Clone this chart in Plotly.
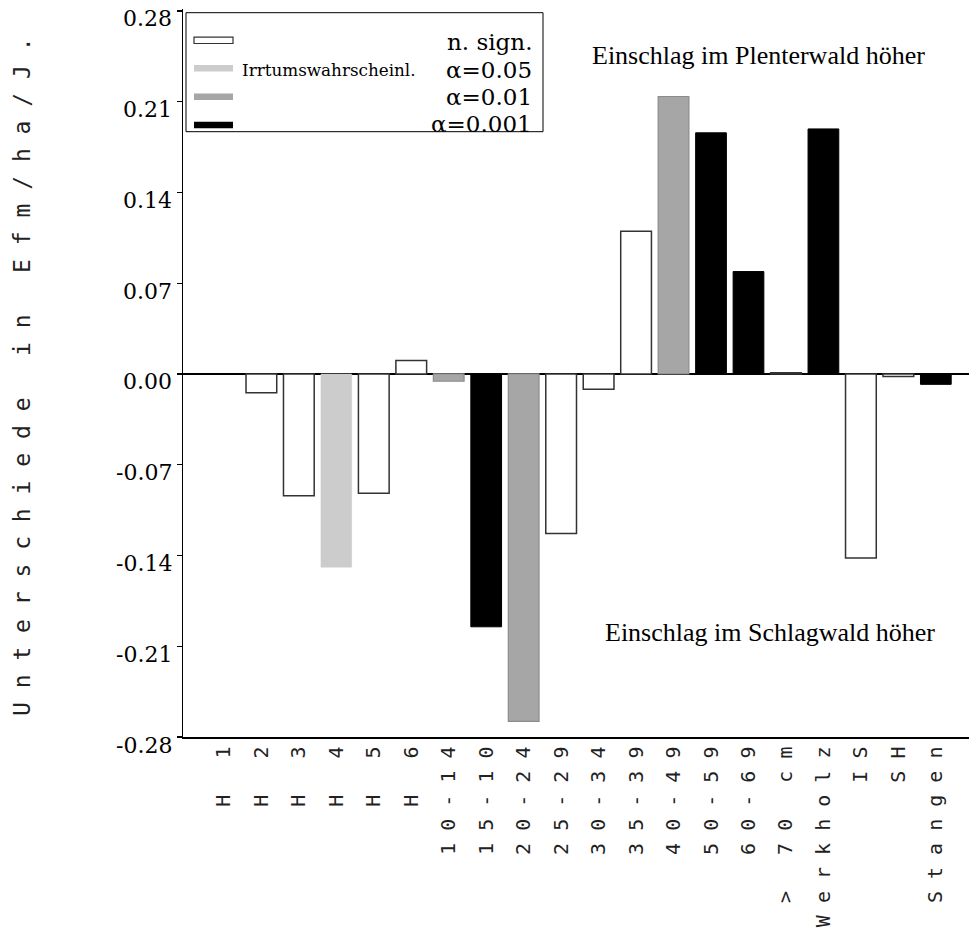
import plotly.graph_objects as go

# ---------------- data ----------------
categories = ["H 1", "H 2", "H 3", "H 4", "H 5", "H 6", "10-14", "15-10", "20-24",
              "25-29", "30-34", "35-39", "40-49", "50-59", "60-69", "> 70 cm",
              "Werkholz", "IS", "SH", "Stangen"]
differences = [None, -0.0144, -0.094, -0.149, -0.092, 0.0103, -0.0056, -0.195, -0.268,
               -0.123, -0.0118, 0.110, 0.214, 0.186, 0.079, 0.001,
               0.189, -0.142, -0.002, -0.008]
significance = ["n", "n", "n", "a05", "n", "n", "a01", "a001", "a01",
                "n", "n", "n", "a01", "a001", "a001", "n",
                "a001", "n", "n", "a001"]
sig_keys = ["n", "a05", "a01", "a001"]
sig_labels = ["n. sign.", "α=0.05", "α=0.01", "α=0.001"]
y_ticks = [-0.28, -0.21, -0.14, -0.07, 0.0, 0.07, 0.14, 0.21, 0.28]
y_title = "Unterschiede in Efm/ha/J."
note_top = "Einschlag im Plenterwald höher"
note_bottom = "Einschlag im Schlagwald höher"
legend_title = "Irrtumswahrscheinl."

# ---------------- styles ----------------
fill = {"n": "#ffffff", "a05": "#cccccc", "a01": "#a6a6a6", "a001": "#000000"}
edge = {"n": "#333333", "a05": "#cccccc", "a01": "#8c8c8c", "a001": "#000000"}
edge_w = {"n": 1.5, "a05": 0.5, "a01": 1.2, "a001": 1}
SERIF_W = "DejaVu Serif"

OFF = 0                      # body margin removed via post_script
W, H = 969 - OFF, 930 - OFF
PL, PT, PR, PB = 183, 9, 969, 737   # plot area in page pixels
L, T = PL - OFF, PT - OFF
R, B = W - (PR - OFF), H - (PB - OFF)
PW, PH = W - L - R, H - T - B


def px(x):
    return (x - PL) / PW


def py(y):
    return (PB - y) / PH


def spaced(s):
    return " ".join(s)


xs = list(range(len(categories)))
fig = go.Figure()
fig.add_trace(go.Bar(
    x=xs, y=differences, width=0.82,
    marker=dict(color=[fill[s] for s in significance],
                line=dict(color=[edge[s] for s in significance],
                          width=[edge_w[s] for s in significance])),
    hoverinfo="skip", showlegend=False,
))

fig.update_layout(
    width=W, height=H, autosize=False,
    margin=dict(l=L, r=R, t=T, b=B, pad=0, autoexpand=False),
    paper_bgcolor="white", plot_bgcolor="white",
    bargap=0,
    xaxis=dict(range=[-1.0915, 19.885], tickmode="array", tickvals=xs,
               ticktext=[spaced(c) for c in categories], tickangle=-90,
               tickfont=dict(family="DejaVu Sans Mono", size=20, color="#222"),
               showgrid=False, zeroline=False, showline=True, linecolor="black",
               linewidth=1.5, ticks="", fixedrange=True, automargin=False),
    yaxis=dict(range=[-0.28, 0.2815], tickmode="array", tickvals=y_ticks,
               showticklabels=False,
               ticks="outside", ticklen=5, tickcolor="black", tickwidth=1.2,
               showgrid=False, zeroline=True, zerolinecolor="black", zerolinewidth=1.5,
               showline=True, linecolor="black", linewidth=1.5, fixedrange=True,
               automargin=False),
)

# y tick labels (set just below each tick, as in the original)
for v in y_ticks:
    fig.add_annotation(text=f"{v:.2f}", xref="paper", yref="y", x=px(174), y=v,
                       yshift=-8, showarrow=False, xanchor="right", yanchor="middle",
                       font=dict(family=SERIF_W, size=22, color="black"))

# y title
fig.add_annotation(text=spaced(y_title), xref="paper", yref="paper",
                   x=px(22), y=py(377), textangle=-90, showarrow=False,
                   xanchor="center", yanchor="middle",
                   font=dict(family="DejaVu Sans Mono", size=23, color="#222"))

# notes
fig.add_annotation(text=note_top, xref="paper", yref="paper", x=px(758), y=py(55),
                   showarrow=False, xanchor="center", yanchor="middle",
                   font=dict(family="Liberation Serif", size=26, color="black"))
fig.add_annotation(text=note_bottom, xref="paper", yref="paper", x=px(770), y=py(632),
                   showarrow=False, xanchor="center", yanchor="middle",
                   font=dict(family="Liberation Serif", size=26, color="black"))

# legend box
fig.add_shape(type="rect", xref="paper", yref="paper", x0=px(186), x1=px(543),
              y0=py(12.7), y1=py(131.7), line=dict(color="black", width=1),
              fillcolor="rgba(0,0,0,0)", layer="above")
sw_y = [40.3, 68.3, 96.7, 125]
text_y = [42, 70, 97, 124]
for k, lab, sy, ty in zip(sig_keys, sig_labels, sw_y, text_y):
    fig.add_shape(type="rect", xref="paper", yref="paper", x0=px(194), x1=px(233),
                  y0=py(sy - 3.2), y1=py(sy + 3.2),
                  line=dict(color=edge[k] if k == "n" else fill[k], width=1.2 if k == "n" else 0),
                  fillcolor=fill[k], layer="above")
    fig.add_annotation(text=lab, xref="paper", yref="paper", x=px(534), y=py(ty),
                       showarrow=False, xanchor="right", yanchor="middle",
                       font=dict(family=SERIF_W, size=23, color="black"))
fig.add_annotation(text=legend_title, xref="paper", yref="paper", x=px(240), y=py(70),
                   showarrow=False, xanchor="left", yanchor="middle",
                   font=dict(family=SERIF_W, size=16.8, color="black"))

fig.write_html(
    "out.html",
    config={"displayModeBar": False, "staticPlot": True},
    post_script="document.documentElement.style.margin='0';"
                "document.body.style.margin='0';document.body.style.overflow='hidden';",
)
